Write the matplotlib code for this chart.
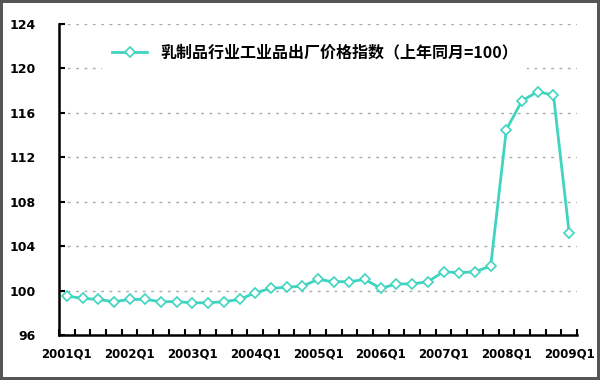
import numpy as np
import matplotlib.pyplot as plt

plt.rcParams['font.family'] = ['Noto Sans CJK SC', 'DejaVu Sans']

# quarterly dairy industry producer price index (same month last year = 100)
quarters = [f"{y}Q{q}" for y in range(2001, 2010) for q in range(1, 5)][:33]
values = [99.5, 99.3, 99.2, 99.0, 99.2, 99.2, 99.0, 99.0,
          98.9, 98.9, 99.0, 99.2, 99.8, 100.2, 100.3, 100.4,
          101.0, 100.8, 100.8, 101.0, 100.2, 100.6, 100.6, 100.8,
          101.7, 101.6, 101.7, 102.2, 114.5, 117.1, 117.9, 117.6,
          105.2]
yticks = [96, 100, 104, 108, 112, 116, 120, 124]
legend_label = "乳制品行业工业品出厂价格指数（上年同月=100）"

fig = plt.figure(figsize=(6, 3.8), dpi=100)
fig.patch.set_edgecolor('#555555')
fig.patch.set_linewidth(3)
ax = fig.add_axes([59/600, 45/380, 518/600, 311/380])

x = np.arange(len(values))
ax.plot(x, values, color='#3fd4c0', lw=2, marker='D', ms=5.5,
        mfc='white', mec='#3fd4c0', mew=1.2, label=legend_label, zorder=3)

ax.set_xlim(-0.5, len(values) - 0.5)
ax.set_ylim(96, 124)
ax.set_yticks(yticks)
ax.set_yticklabels([str(v) for v in yticks], fontsize=9, fontweight='bold',
                   family='DejaVu Sans')
ax.tick_params(axis='y', direction='in', length=4, width=1.5, pad=17)

# tick marks between categories, labels every year
ax.set_xticks(np.arange(-0.5, len(values)))
ax.set_xticklabels([])
ax.tick_params(axis='x', which='major', direction='in', length=4, width=1.5)
ax.set_xticks(x[::4], minor=True)
ax.set_xticklabels(quarters[::4], minor=True, fontsize=8.5, fontweight='bold',
                   family='DejaVu Sans')
ax.tick_params(axis='x', which='minor', length=0, pad=9)

for v in yticks[1:]:
    ax.axhline(v, color='#aaaaaa', lw=1, ls=(0, (2, 4)), zorder=1)

for side in ['top', 'right']:
    ax.spines[side].set_visible(False)
for side in ['left', 'bottom']:
    ax.spines[side].set_linewidth(1.8)

leg = ax.legend(loc='upper center', bbox_to_anchor=(0.494, 0.99), frameon=True,
                fancybox=False, edgecolor='none', facecolor='white',
                framealpha=1, handlelength=2.2, borderpad=0.6,
                prop={'family': ['Noto Sans CJK SC', 'DejaVu Sans'],
                      'weight': 'bold', 'size': 11.5})
leg.set_zorder(5)

fig.savefig("out.png", dpi=100)
